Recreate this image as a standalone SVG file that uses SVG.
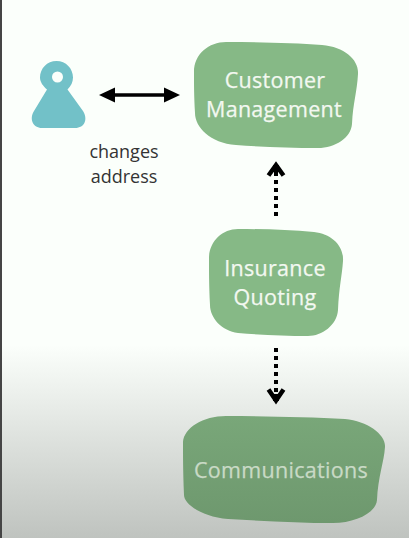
<svg xmlns="http://www.w3.org/2000/svg" width="409" height="538" viewBox="0 0 409 538">
<style>
.blob{fill:#86b986}
.nt{font-family:"Open Sans",sans-serif;font-size:21.5px;fill:#f3f8f1;stroke:#f3f8f1;stroke-width:.25px;text-anchor:middle;letter-spacing:.3px}
.lb{font-family:"Open Sans",sans-serif;font-size:18px;fill:#333;text-anchor:middle}
.ln{fill:none;stroke:#000}
</style>
<defs>
<linearGradient id="shade" x1="0" y1="0" x2="0" y2="1"><stop offset="0" stop-color="#fbfffb"/><stop offset="1" stop-color="#bfc3bf"/></linearGradient>
<linearGradient id="comm" x1="0" y1="0" x2="0" y2="1"><stop offset="0" stop-color="#79a779"/><stop offset="1" stop-color="#6e986e"/></linearGradient>
</defs>
<rect width="409" height="538" fill="#fbfffb"/>
<rect y="345" width="409" height="193" fill="url(#shade)"/>
<g id="person">
<path fill="#72c1c8" fill-rule="evenodd" d="M56.500 61C66 61 73 68.500 73 77.500C73 82 71 86 67.500 89.500L83 111C88 119 85 128 75 128H42C33 128 29 119 34 111L47 89.500C43 86 40 82 40 77.500C40 68.500 47 61 56.500 61ZM57.500 71.500A5.500 5.500 0 1 0 57.500 82.500A5.500 5.500 0 1 0 57.500 71.500Z"/>
</g>
<g id="customer-management">
<path class="blob" d="M226 42C260 42 295 43 322 45C345 47 359 60 358 74C357 92 353 103 352 124C351 138 335 148 318 148C290 148 262 147 236 145C210 143 195 127 195 113C194 95 194 85 194 72C194 54 209 42 226 42Z"/>
<text class="nt" x="275" y="88">Customer</text>
<text class="nt" x="274" y="117">Management</text>
</g>
<g id="insurance-quoting">
<path class="blob" d="M238 229C265 229 290 230 314 232C332 234 344 246 343 261C342 276 339 287 338 310C337 325 322 336 308 336C285 336 262 335 238 333C222 331 210 318 210 305C209 285 209 272 209 258C209 242 222 229 238 229Z"/>
<text class="nt" x="275" y="276">Insurance</text>
<text class="nt" x="275" y="305">Quoting</text>
</g>
<g id="communications">
<path class="blob" style="fill:url(#comm)" d="M226 416C265 416 310 417 345 419C368 421 386 435 385 447C384 462 378 477 377 500C376 513 355 523 333 523C300 523 265 521 228 519C202 517 184 504 184 495C183 470 183 455 183 442C184 428 203 416 226 416Z"/>
<text class="nt" style="fill:#c9dac6;stroke:#c9dac6" x="281" y="478">Communications</text>
</g>
<g id="connectors">
<path class="ln" stroke-width="3.500" d="M110 95H169"/>
<path d="M99 95L115 87.500V102.500ZM180 95L164 87.500V102.500Z"/>
<path class="ln" stroke-width="4" stroke-dasharray="4 4" d="M276 216V172"/>
<path class="ln" stroke-width="4.500" d="M268.500 175.500L276 165L283.500 175.500"/>
<path class="ln" stroke-width="4" stroke-dasharray="4 4" d="M276 348V394"/>
<path class="ln" stroke-width="4.500" d="M268.500 389.500L276 400.500L283.500 389.500"/>
<path d="M273 172H279V165H273ZM273 394H279V401H273Z"/>
</g>
<g id="label">
<text class="lb" x="124" y="158">changes</text>
<text class="lb" x="124" y="183">address</text>
</g>
<rect width="2" height="538" fill="#454545"/>
</svg>
